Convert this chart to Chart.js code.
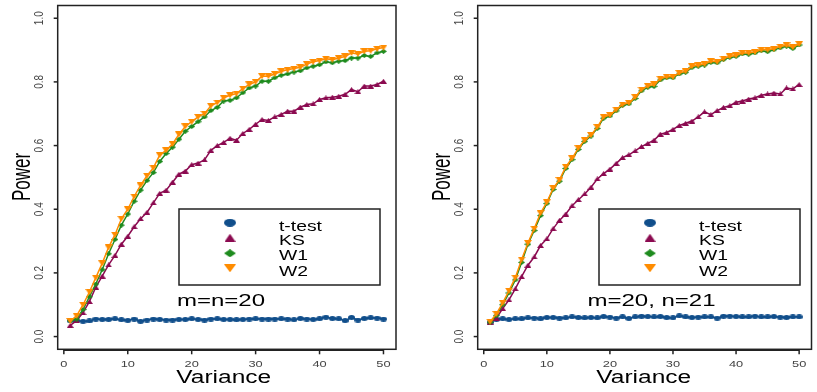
<!DOCTYPE html>
<html lang="en">
<head>
    <meta charset="UTF-8">
    <title>Power vs Variance</title>
    <script src="https://cdn.jsdelivr.net/npm/chart.js"></script>
    <style>
        body {
            margin: 0;
            background-color: #fff;
        }

        .panels {
            display: flex;
            width: 817px;
            height: 392px;
        }

        canvas {
            display: block;
        }
    </style>
</head>
<body>
    <div class="panels">
        <canvas id="leftChart" width="410" height="392"></canvas>
        <canvas id="rightChart" width="407" height="392"></canvas>
    </div>

    <script>
        // Data
        const variance = [1, 2, 3, 4, 5, 6, 7, 8, 9, 10, 11, 12, 13, 14, 15, 16, 17, 18, 19, 20,
            21, 22, 23, 24, 25, 26, 27, 28, 29, 30, 31, 32, 33, 34, 35, 36, 37, 38, 39, 40,
            41, 42, 43, 44, 45, 46, 47, 48, 49, 50];
        const xTicks = [0, 10, 20, 30, 40, 50];
        const yTicks = [0.0, 0.2, 0.4, 0.6, 0.8, 1.0];
        const seriesNames = ['t-test', 'KS', 'W1', 'W2'];

        // m = n = 20
        const leftTtest = [0.050, 0.050, 0.048, 0.049, 0.055, 0.054, 0.054, 0.056, 0.053, 0.051,
            0.055, 0.048, 0.052, 0.055, 0.054, 0.052, 0.052, 0.054, 0.054, 0.056,
            0.054, 0.052, 0.055, 0.056, 0.054, 0.054, 0.053, 0.054, 0.055, 0.056,
            0.055, 0.055, 0.055, 0.056, 0.055, 0.053, 0.057, 0.055, 0.054, 0.056,
            0.061, 0.057, 0.056, 0.050, 0.060, 0.052, 0.057, 0.059, 0.058, 0.055];
        const leftKS = [0.035, 0.050, 0.075, 0.110, 0.155, 0.190, 0.225, 0.255, 0.290, 0.315,
            0.345, 0.370, 0.390, 0.420, 0.450, 0.460, 0.485, 0.510, 0.520, 0.540,
            0.545, 0.555, 0.585, 0.600, 0.610, 0.623, 0.617, 0.638, 0.651, 0.667,
            0.682, 0.679, 0.690, 0.698, 0.708, 0.708, 0.721, 0.729, 0.731, 0.745,
            0.750, 0.752, 0.755, 0.761, 0.776, 0.769, 0.787, 0.787, 0.792, 0.802];
        const leftW1 = [0.050, 0.055, 0.085, 0.125, 0.165, 0.210, 0.260, 0.305, 0.350, 0.385,
            0.425, 0.460, 0.490, 0.515, 0.550, 0.575, 0.595, 0.620, 0.645, 0.660,
            0.675, 0.690, 0.710, 0.720, 0.740, 0.742, 0.750, 0.766, 0.781, 0.787,
            0.802, 0.802, 0.813, 0.821, 0.825, 0.831, 0.835, 0.844, 0.849, 0.854,
            0.863, 0.860, 0.865, 0.867, 0.875, 0.875, 0.883, 0.880, 0.891, 0.896];
        const leftW2 = [0.049, 0.065, 0.100, 0.140, 0.185, 0.230, 0.280, 0.320, 0.370, 0.400,
            0.440, 0.475, 0.505, 0.530, 0.570, 0.585, 0.605, 0.635, 0.660, 0.675,
            0.690, 0.700, 0.725, 0.735, 0.750, 0.758, 0.763, 0.779, 0.792, 0.800,
            0.818, 0.818, 0.825, 0.833, 0.838, 0.842, 0.846, 0.856, 0.863, 0.867,
            0.873, 0.870, 0.875, 0.880, 0.891, 0.888, 0.896, 0.898, 0.904, 0.908];

        // m = 20, n = 21
        const rightTtest = [0.045, 0.055, 0.056, 0.054, 0.056, 0.056, 0.059, 0.058, 0.056, 0.060,
            0.060, 0.058, 0.059, 0.062, 0.060, 0.059, 0.060, 0.059, 0.063, 0.061,
            0.058, 0.062, 0.057, 0.062, 0.064, 0.063, 0.062, 0.063, 0.060, 0.059,
            0.065, 0.062, 0.060, 0.061, 0.062, 0.062, 0.058, 0.064, 0.064, 0.063,
            0.062, 0.062, 0.064, 0.062, 0.062, 0.063, 0.061, 0.060, 0.062, 0.062];
        const rightKS = [0.045, 0.058, 0.088, 0.115, 0.150, 0.188, 0.224, 0.250, 0.286, 0.307,
            0.339, 0.365, 0.385, 0.411, 0.430, 0.448, 0.469, 0.495, 0.512, 0.526,
            0.544, 0.562, 0.571, 0.583, 0.597, 0.607, 0.617, 0.636, 0.641, 0.651,
            0.663, 0.670, 0.677, 0.690, 0.706, 0.697, 0.710, 0.720, 0.725, 0.736,
            0.740, 0.746, 0.750, 0.758, 0.762, 0.765, 0.762, 0.781, 0.778, 0.792];
        const rightW1 = [0.045, 0.066, 0.100, 0.137, 0.178, 0.233, 0.290, 0.333, 0.380, 0.418,
            0.462, 0.488, 0.528, 0.556, 0.588, 0.613, 0.630, 0.654, 0.686, 0.693,
            0.709, 0.726, 0.731, 0.748, 0.772, 0.783, 0.786, 0.806, 0.813, 0.813,
            0.825, 0.830, 0.845, 0.849, 0.853, 0.861, 0.860, 0.870, 0.877, 0.880,
            0.888, 0.887, 0.891, 0.898, 0.895, 0.901, 0.907, 0.912, 0.905, 0.916];
        const rightW2 = [0.047, 0.071, 0.106, 0.144, 0.185, 0.242, 0.294, 0.339, 0.388, 0.422,
            0.466, 0.492, 0.533, 0.560, 0.592, 0.617, 0.633, 0.658, 0.690, 0.696,
            0.713, 0.729, 0.734, 0.752, 0.776, 0.787, 0.792, 0.810, 0.816, 0.816,
            0.828, 0.833, 0.849, 0.852, 0.856, 0.865, 0.863, 0.873, 0.880, 0.883,
            0.891, 0.891, 0.894, 0.901, 0.901, 0.904, 0.911, 0.915, 0.909, 0.919];

        const colors = ['#104E8B', '#8B0A50', '#1E8B1E', '#FF8C00'];
        const shapes = ['circle', 'up', 'diamond', 'down'];
        const FONT = '"Liberation Sans", Arial, sans-serif';

        // small canvases used as point styles (the figure is stretched sideways)
        function marker(shape, color, w, h) {
            const c = document.createElement('canvas');
            c.width = w;
            c.height = h;
            const g = c.getContext('2d');
            g.fillStyle = color;
            g.beginPath();
            if (shape === 'circle') {
                g.ellipse(w / 2, h / 2, w / 2, h / 2, 0, 0, Math.PI * 2);
            } else if (shape === 'up') {
                g.moveTo(w / 2, 0); g.lineTo(w, h); g.lineTo(0, h);
            } else if (shape === 'down') {
                g.moveTo(0, 0); g.lineTo(w, 0); g.lineTo(w / 2, h);
            } else {
                g.moveTo(w / 2, 0); g.lineTo(w, h / 2); g.lineTo(w / 2, h); g.lineTo(0, h / 2);
            }
            g.closePath();
            g.fill();
            return c;
        }

        const pointSizes = [[7, 5], [7, 5], [7, 5], [8, 6]];
        const legendSizes = [[12, 8], [11, 8], [12, 8], [12, 8]];

        function drawText(ctx, str, x, y, size, align, rotate, sx, baseline) {
            ctx.save();
            ctx.translate(x, y);
            ctx.scale(sx, 1);
            if (rotate) ctx.rotate(-Math.PI / 2);
            ctx.font = size + 'px ' + FONT;
            ctx.textAlign = align;
            ctx.textBaseline = baseline || 'middle';
            ctx.fillText(str, 0, 0);
            ctx.restore();
        }

        // R-style frame, axes, legend and label drawn on top of the datasets
        const framePlugin = {
            id: 'frame',
            afterDraw(chart, args, opts) {
                const ctx = chart.ctx;
                const a = chart.chartArea;
                const xs = chart.scales.x;
                const ys = chart.scales.y;
                const L = a.left;

                ctx.save();
                ctx.strokeStyle = '#222';
                ctx.lineWidth = 1.5;
                ctx.strokeRect(a.left, a.top, a.right - a.left, a.bottom - a.top);

                // y axis
                ctx.fillStyle = '#444';
                yTicks.forEach(v => {
                    const py = ys.getPixelForValue(v);
                    ctx.beginPath();
                    ctx.moveTo(L - 4, py);
                    ctx.lineTo(L, py);
                    ctx.stroke();
                    drawText(ctx, v.toFixed(1), L - 18, py, 10, 'center', true, 1.3);
                });
                // x axis
                ctx.beginPath();
                ctx.moveTo(xs.getPixelForValue(xTicks[0]), a.bottom + 1);
                ctx.lineTo(xs.getPixelForValue(xTicks[xTicks.length - 1]), a.bottom + 1);
                ctx.stroke();
                xTicks.forEach(v => {
                    const px = xs.getPixelForValue(v);
                    ctx.beginPath();
                    ctx.moveTo(px, a.bottom);
                    ctx.lineTo(px, a.bottom + 5);
                    ctx.stroke();
                    drawText(ctx, String(v), px, 364, 9.5, 'center', false, 1.35);
                });

                // axis titles
                ctx.fillStyle = '#000';
                drawText(ctx, 'Power', L - 35, 177, 17, 'center', true, 1.5);
                drawText(ctx, 'Variance', L + 166, 378, 17.5, 'center', false, 1.4);

                // legend
                ctx.strokeStyle = '#222';
                ctx.lineWidth = 1.5;
                ctx.strokeRect(L + 121.3, 209, 201, 76);
                const symY = [222.7, 237.7, 253.3, 268.3];
                const txtY = [230.7, 245, 260, 275.7];
                seriesNames.forEach((name, i) => {
                    const m = marker(shapes[i], colors[i], legendSizes[i][0], legendSizes[i][1]);
                    ctx.drawImage(m, L + 172.3 - m.width / 2, symY[i] - m.height / 2);
                    ctx.fillStyle = '#000';
                    drawText(ctx, name, L + 221.3, txtY[i], 14, 'left', false, 1.38, 'alphabetic');
                });

                // sample size note
                drawText(ctx, opts.note, L + opts.noteX, 302, 16, 'center', false, 1.5);
                ctx.restore();
            }
        };

        function makeChart(id, values, padLeft, padRight, note, noteX) {
            const datasets = values.map((vals, i) => ({
                label: seriesNames[i],
                data: variance.map((v, j) => ({ x: v, y: vals[j] })),
                borderColor: colors[i],
                backgroundColor: colors[i],
                borderWidth: 1.5,
                pointStyle: marker(shapes[i], colors[i], pointSizes[i][0], pointSizes[i][1]),
                pointRadius: 3,
                order: 3 - i
            }));

            return new Chart(document.getElementById(id), {
                type: 'line',
                data: { datasets: datasets },
                options: {
                    responsive: false,
                    animation: false,
                    layout: {
                        padding: { left: padLeft, right: padRight, top: 4, bottom: 42.7 }
                    },
                    plugins: {
                        legend: { display: false },
                        tooltip: { enabled: false },
                        frame: { note: note, noteX: noteX }
                    },
                    scales: {
                        x: { type: 'linear', min: -0.96, max: 51.96, display: false },
                        y: { min: -0.04, max: 1.04, display: false }
                    }
                },
                plugins: [framePlugin]
            });
        }

        makeChart('leftChart', [leftTtest, leftKS, leftW1, leftW2], 57.7, 14, 'm=n=20', 163.3);
        makeChart('rightChart', [rightTtest, rightKS, rightW1, rightW2], 67.7, 1, 'm=20, n=21', 173.8);
    </script>
</body>
</html>
